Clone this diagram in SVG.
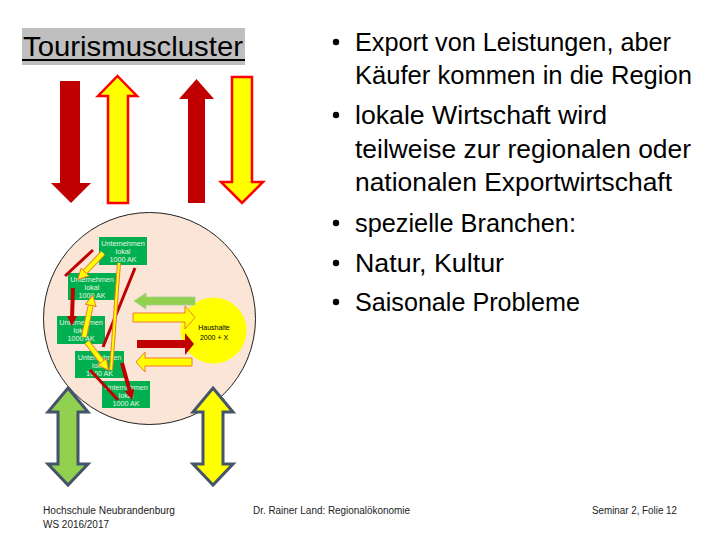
<svg xmlns="http://www.w3.org/2000/svg" width="720" height="540" viewBox="0 0 720 540">
<defs>
<style>
.t{font-family:"Liberation Sans",Arial,sans-serif;fill:#000}
.b{font-size:25px}
.ft{font-family:"Liberation Sans",Arial,sans-serif;font-size:10px;fill:#222}
.box{fill:#00B050}
.bt{font-family:"Liberation Sans",Arial,sans-serif;font-size:7.2px;fill:#E8F5E0;text-anchor:middle}
.red{fill:#C00000}
.yel{fill:#FFFF00;stroke:#FF0000;stroke-width:2.5}
.rl{stroke:#C00000;stroke-width:3;fill:none;stroke-linecap:butt}
.ra{stroke:#C00000;stroke-width:4;fill:none}
.yo{stroke:#ED7D31;stroke-width:6;fill:none}
.yi{stroke:#FFFF00;stroke-width:4;fill:none}
.dbl{stroke:#44546A;stroke-width:3;stroke-linejoin:miter}
</style>
<marker id="mr" viewBox="0 0 10 10" refX="2" refY="5" markerWidth="10" markerHeight="10" markerUnits="userSpaceOnUse" orient="auto"><path d="M0,0 L10,5 L0,10 z" fill="#C00000"/></marker>
<marker id="my" viewBox="0 0 12 12" refX="2" refY="6" markerWidth="12" markerHeight="12" markerUnits="userSpaceOnUse" orient="auto"><path d="M0.5,0.5 L11,6 L0.5,11.5 z" fill="#FFFF00" stroke="#ED7D31" stroke-width="1"/></marker>
</defs>
<rect width="720" height="540" fill="#fff"/>

<g id="title">
<rect x="22" y="28" width="223" height="37" fill="#BFBFBF"/>
<text class="t" x="23" y="56" font-size="28" textLength="220" lengthAdjust="spacingAndGlyphs">Tourismuscluster</text>
<rect x="22" y="59" width="223" height="2" fill="#000"/>
</g>

<g id="top-arrows">
<polygon class="red" points="60,81 80,81 80,183 91,183 71,203 51,183 60,183"/>
<polygon class="yel" points="117.5,76 137,96 128,96 128,203 108,203 108,96 98,96"/>
<polygon class="red" points="196.5,79 214,99 205,99 205,203 188,203 188,99 179,99"/>
<polygon class="yel" points="232,77 252,77 252,182 263,182 242,203 221,182 232,182"/>
</g>

<g id="cluster">
<circle cx="149.5" cy="318.5" r="106" fill="#FBE5D6" stroke="#222" stroke-width="1"/>
</g>

<g id="haushalte">
<circle cx="213.5" cy="330.5" r="33" fill="#FFFF00"/>
<text class="t" x="214" y="330" font-size="7" text-anchor="middle" fill="#333">Haushalte</text>
<text class="t" x="214" y="339.5" font-size="7" text-anchor="middle" fill="#333">2000 + X</text>
</g>

<g id="u1"><rect class="box" x="99" y="237" width="48" height="28"/><text class="bt" x="123" y="245.5">Unternehmen</text><text class="bt" x="123" y="253.5">lokal</text><text class="bt" x="123" y="261.5">1000 AK</text></g>
<g id="u2"><rect class="box" x="68" y="273" width="48" height="27"/><text class="bt" x="92" y="281.5">Unternehmen</text><text class="bt" x="92" y="289.5">lokal</text><text class="bt" x="92" y="297.5">1000 AK</text></g>
<g id="u3"><rect class="box" x="57" y="316" width="48" height="28"/><text class="bt" x="81" y="324.5">Unternehmen</text><text class="bt" x="81" y="332.5">lokal</text><text class="bt" x="81" y="340.5">1000 AK</text></g>
<g id="u4"><rect class="box" x="75" y="351" width="49" height="27"/><text class="bt" x="99.5" y="359.5">Unternehmen</text><text class="bt" x="99.5" y="367.5">lokal</text><text class="bt" x="99.5" y="375.5">1000 AK</text></g>
<g id="u5"><rect class="box" x="102" y="381" width="48" height="27"/><text class="bt" x="126" y="389.5">Unternehmen</text><text class="bt" x="126" y="397.5">lokal</text><text class="bt" x="126" y="405.5">1000 AK</text></g>

<g id="connectors">
<line class="rl" x1="65" y1="276" x2="93" y2="250"/>
<line class="rl" x1="135" y1="268" x2="103" y2="347"/>
<line class="rl" x1="90" y1="370" x2="118" y2="400"/>
<line class="ra" x1="73" y1="288" x2="72" y2="318" marker-end="url(#mr)"/>
<line class="ra" x1="122" y1="363" x2="130" y2="392" marker-end="url(#mr)"/>
<line x1="119" y1="263" x2="111" y2="370" stroke="#ED7D31" stroke-width="4"/>
<line x1="119" y1="263" x2="111" y2="370" stroke="#FFFF00" stroke-width="2"/>
<line class="yo" x1="103" y1="253" x2="84" y2="273"/>
<line class="yi" x1="103" y1="253" x2="84" y2="273" marker-end="url(#my)"/>
<line class="yo" x1="84" y1="337" x2="91" y2="304"/>
<line class="yi" x1="84" y1="337" x2="91" y2="304" marker-end="url(#my)"/>
<line class="yo" x1="87" y1="342" x2="103" y2="363"/>
<line class="yi" x1="87" y1="342" x2="103" y2="363" marker-end="url(#my)"/>
<polygon points="195,297 146,297 146,293 134,301 146,309 146,305 195,305" fill="#92D050" stroke="#A9D18E" stroke-width="0.8"/>
<polygon points="133,313 185,313 185,306 195,317.5 185,329 185,322 133,322" fill="#FFFF00" stroke="#ED7D31" stroke-width="1"/>
<polygon points="137,340 185,340 185,333 194,344 185,355 185,348 137,348" fill="#C00000"/>
<polygon points="192,358 145,358 145,352 136,362 145,372 145,366 192,366" fill="#FFFF00" stroke="#ED7D31" stroke-width="1"/>
</g>

<g id="bottom-arrows">
<polygon class="dbl" fill="#92D050" points="68,388 88,412 78,412 78,464 88,464 68,485 48,464 58,464 58,412 48,412"/>
<polygon class="dbl" fill="#FFFF00" points="213,388 233,412 223,412 223,464 233,464 213,485 193,464 203,464 203,412 193,412"/>
</g>

<g id="bullets" class="t b">
<circle cx="336" cy="42" r="3.2"/>
<text x="355" y="51" textLength="316" lengthAdjust="spacingAndGlyphs">Export von Leistungen, aber</text>
<text x="355" y="84" textLength="337" lengthAdjust="spacingAndGlyphs">Käufer kommen in die Region</text>
<circle cx="336" cy="115" r="3.2"/>
<text x="355" y="124" textLength="252" lengthAdjust="spacingAndGlyphs">lokale Wirtschaft wird</text>
<text x="355" y="158" textLength="336" lengthAdjust="spacingAndGlyphs">teilweise zur regionalen oder</text>
<text x="355" y="191" textLength="317" lengthAdjust="spacingAndGlyphs">nationalen Exportwirtschaft</text>
<circle cx="336" cy="223" r="3.2"/>
<text x="355" y="232" textLength="221" lengthAdjust="spacingAndGlyphs">spezielle Branchen:</text>
<circle cx="336" cy="263" r="3.2"/>
<text x="355" y="272" textLength="149" lengthAdjust="spacingAndGlyphs">Natur, Kultur</text>
<circle cx="336" cy="302" r="3.2"/>
<text x="355" y="311" textLength="225" lengthAdjust="spacingAndGlyphs">Saisonale Probleme</text>
</g>

<g id="footer">
<text class="ft" x="43" y="514" textLength="132" lengthAdjust="spacingAndGlyphs">Hochschule Neubrandenburg</text>
<text class="ft" x="43" y="528" textLength="66" lengthAdjust="spacingAndGlyphs">WS 2016/2017</text>
<text class="ft" x="253" y="514" textLength="157" lengthAdjust="spacingAndGlyphs">Dr. Rainer Land: Regionalökonomie</text>
<text class="ft" x="592" y="514" textLength="85" lengthAdjust="spacingAndGlyphs">Seminar 2, Folie 12</text>
</g>
</svg>
